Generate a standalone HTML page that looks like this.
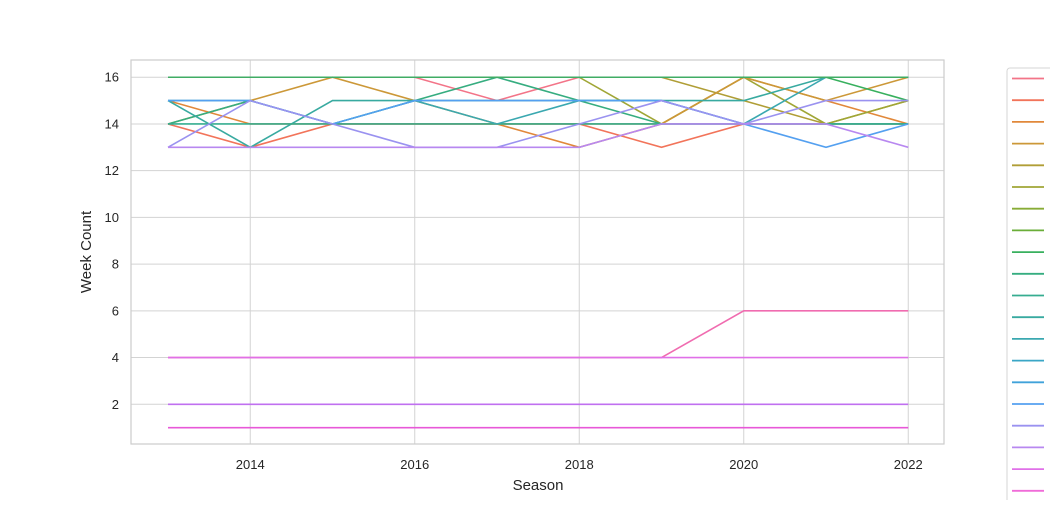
<!DOCTYPE html>
<html><head><meta charset="utf-8"><style>
body{margin:0;background:#fff;font-family:"Liberation Sans",sans-serif}
svg text{font-family:"Liberation Sans",sans-serif;fill:#262626}
</style></head><body>
<svg id="chart" width="1050" height="500" viewBox="0 0 1050 500" xmlns="http://www.w3.org/2000/svg">
<rect x="0" y="0" width="1050" height="500" fill="#fff"/>
<g id="grid"></g>
<g id="lines"></g>
<rect x="131" y="60" width="813" height="384" fill="none" stroke="#cccccc" stroke-width="1.2"/>
<g id="ticks" font-size="13"></g>
<text x="538" y="490" text-anchor="middle" font-size="15">Season</text>
<text transform="translate(91,252) rotate(-90)" text-anchor="middle" font-size="15">Week Count</text>
<rect x="1007" y="68" width="60" height="440" rx="3" fill="#fff" stroke="#d6d6d6"/>
<g id="legend"></g>
</svg>
<script>
const seasons=[2013,2014,2015,2016,2017,2018,2019,2020,2021,2022];
const xTicks=[2014,2016,2018,2020,2022];
const yTicks=[2,4,6,8,10,12,14,16];
const colors=["#f37488","#f2745a","#e1883a","#cc9838","#b09e36","#a0a636","#88ac36","#6aae38","#38b05e","#36ad80","#36ad90","#38aaa0","#3aa8b0","#3aa6c6","#40a2da","#54a0f0","#9a92f0","#b888f0","#e070e8","#f06cd8"];
const s0=[16,16,16,16,15,16,16,16,16,16];
const s1=[14,13,14,14,14,14,13,14,14,14];
const s2=[15,14,14,14,14,13,14,16,15,14];
const s3=[16,16,16,16,16,16,16,15,14,15];
const s4=[16,16,16,16,16,16,14,16,14,15];
const s5=[14,15,16,15,14,14,14,16,15,16];
const s6=[16,16,16,16,16,16,16,16,16,15];
const s7=[16,16,16,16,16,16,16,16,16,16];
const s8=[14,15,14,15,16,15,14,14,14,14];
const s9=[15,13,15,15,15,15,15,15,16,16];
const s10=[14,14,14,14,14,14,14,14,14,14];
const s11=[15,15,14,15,14,15,15,14,16,16];
const s12=[15,15,14,15,15,15,15,14,13,14];
const s13=[13,15,14,13,13,14,15,14,15,15];
const s14=[13,13,13,13,13,13,14,14,14,13];
const s15=[4,4,4,4,4,4,4,6,6,6];
const s16=[4,4,4,4,4,4,4,4,4,4];
const s17=[2,2,2,2,2,2,2,2,2,2];
const s18=[1,1,1,1,1,1,1,1,1,1];
const s19=[16,16,16,16,16,16,16,16,16,16];
const series=[s0,s1,s2,s3,s4,s5,s6,s7,s8,s9,s10,s11,s12,s13,s14,s15,s16,s17,s18,s19];
const seriesColors=["#f37488","#f2745a","#e1883a","#b09e36","#a0a636","#cc9838","#38b05e","#3aa8b0","#36ad80","#38aaa0","#36ad90","#3aa8b0","#54a0f0","#9a92f0","#b888f0","#f06cb0","#e070e8","#c070f0","#e858d8","#40ac64"];
const NS="http://www.w3.org/2000/svg";
const xS=v=>168+(v-2013)*82.25;
const yS=v=>451+(v-0)*(-23.36);
const grid=document.getElementById('grid'),ticks=document.getElementById('ticks'),lines=document.getElementById('lines'),legend=document.getElementById('legend');
function mk(tag,attrs,parent){const e=document.createElementNS(NS,tag);for(const k in attrs)e.setAttribute(k,attrs[k]);parent.appendChild(e);return e;}
xTicks.forEach(t=>{
  const l=mk('line',{x1:xS(t),x2:xS(t),y1:60,y2:444,stroke:'#d3d3d3','stroke-width':1},grid);
  
  
  const tx=mk('text',{x:xS(t),y:469,'text-anchor':'middle'},ticks);tx.textContent=t;
  
  
});
yTicks.forEach(t=>{
  const l=mk('line',{x1:131,x2:944,y1:yS(t),y2:yS(t),stroke:'#d3d3d3','stroke-width':1},grid);
  
  
  const tx=mk('text',{x:119,y:yS(t)+4.5,'text-anchor':'end'},ticks);tx.textContent=t;
  
  
});
series.forEach((s,i)=>{
  const p=mk('polyline',{points:s.map((v,j)=>xS(seasons[j])+','+yS(v)).join(' '),fill:'none',stroke:seriesColors[i],'stroke-width':1.6},lines);
  
  
});
colors.forEach((c,i)=>{
  const y=78.5+i*21.7;
  const l=mk('line',{x1:1012,x2:1044,y1:y,y2:y,stroke:c,'stroke-width':1.8},legend);
  
  
});
</script>
</body></html>
